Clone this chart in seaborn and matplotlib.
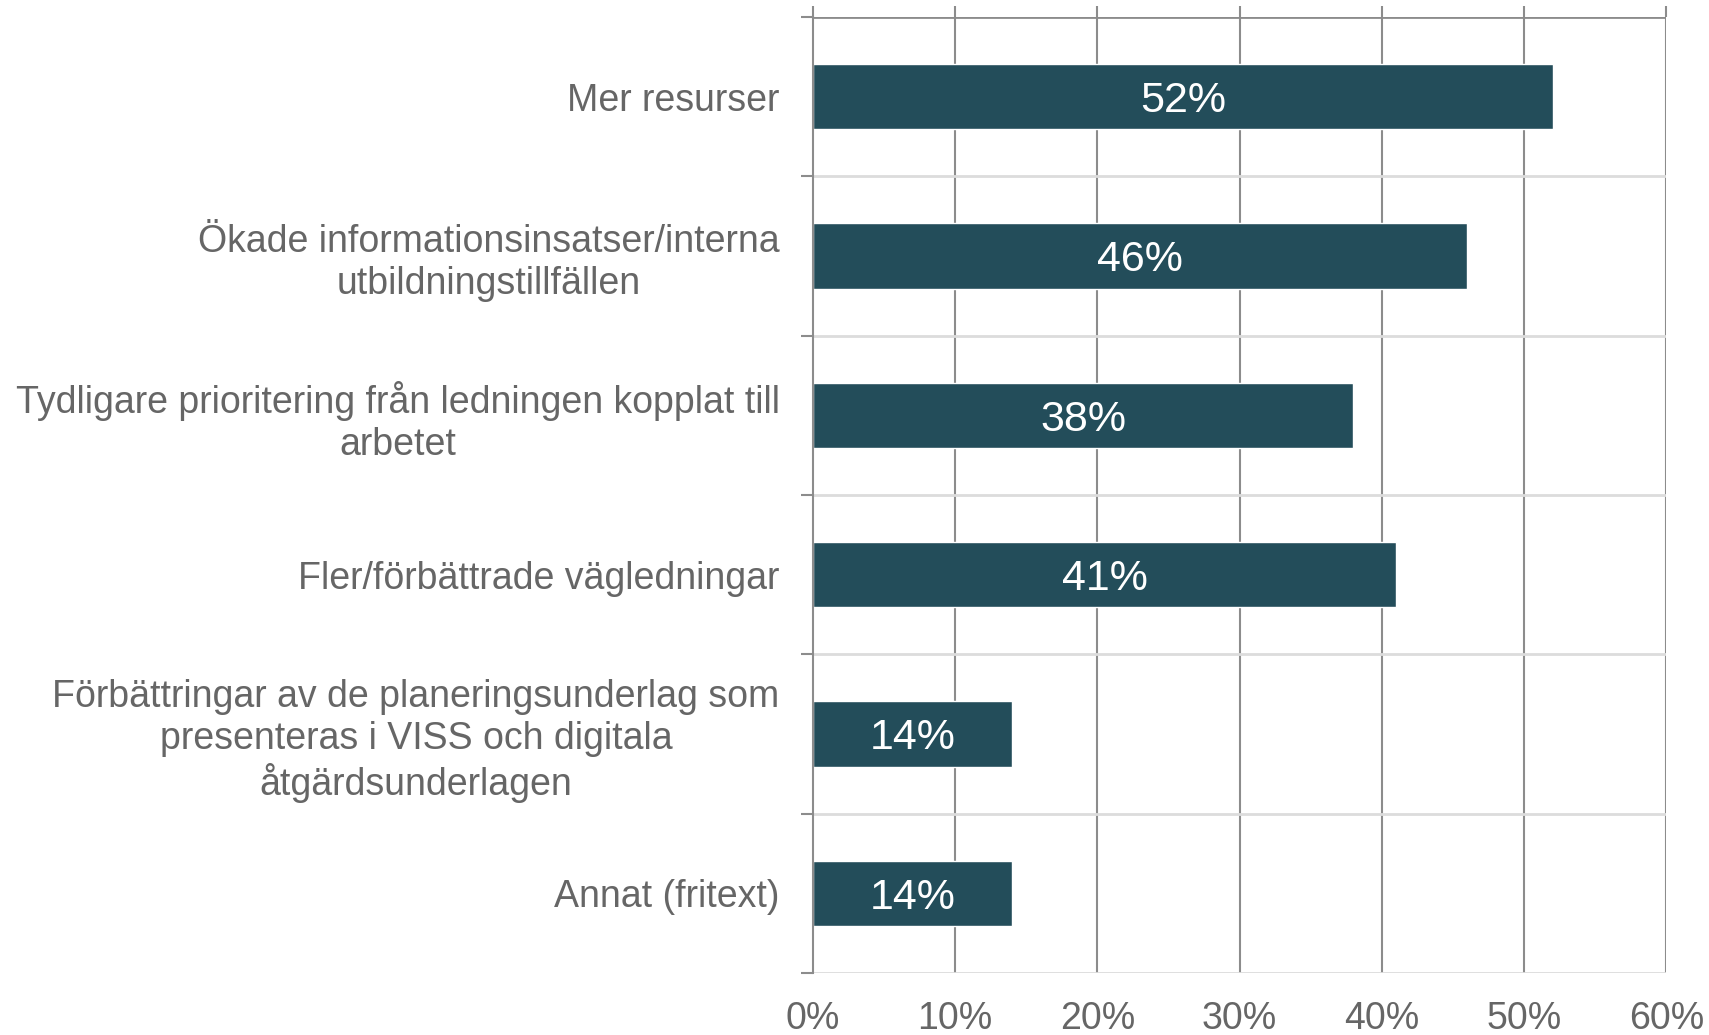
import matplotlib
matplotlib.use("Agg")
import matplotlib.pyplot as plt
import seaborn as sns
import pandas as pd
from matplotlib.ticker import FixedLocator

categories = [
    "Mer resurser",
    "Ökade informationsinsatser/interna\nutbildningstillfällen",
    "Tydligare prioritering från ledningen kopplat till\narbetet",
    "Fler/förbättrade vägledningar",
    "Förbättringar av de planeringsunderlag som\npresenteras i VISS och digitala\nåtgärdsunderlagen",
    "Annat (fritext)",
]
values = [52, 46, 38, 41, 14, 14]
x_ticks = [0, 10, 20, 30, 40, 50, 60]
x_tick_labels = ["0%", "10%", "20%", "30%", "40%", "50%", "60%"]

sns.set_style("white")
plt.rcParams['font.family'] = ['Liberation Sans', 'DejaVu Sans']

df = pd.DataFrame({"cat": categories, "val": values})

fig = plt.figure(figsize=(17.09, 10.35), dpi=100)
ax = fig.add_axes([0.4757, 0.0599, 0.975 - 0.4757, 0.9836 - 0.0599])

sns.barplot(data=df, y="cat", x="val", orient="h", color="#234D5A",
            saturation=1, width=0.41, ax=ax, zorder=3)

ax.set_xlim(0, 60)
ax.set_ylim(5.5, -0.5)
ax.set_xlabel("")
ax.set_ylabel("")

# vertical gridlines
ax.set_xticks(x_ticks)
ax.set_xticklabels(x_tick_labels)
for x in x_ticks[1:]:
    ax.axvline(x, color="#8c8c8c", lw=1.5, zorder=1)
# horizontal separators
for i in range(len(categories)):
    yb = i + 0.5
    ax.axhline(yb, color="#dcdcdc", lw=2, zorder=1)
ax.axhline(-0.5, color="#8c8c8c", lw=2, zorder=2)

for s in ["top", "right", "bottom"]:
    ax.spines[s].set_visible(False)
ax.spines["left"].set_color("#8c8c8c")
ax.spines["left"].set_linewidth(1.5)
ax.spines["left"].set_zorder(4)

# y ticks at category boundaries (major invisible labels at centers)
ax.set_yticks(range(len(categories)))
ax.set_yticklabels(categories, multialignment="center")
ax.yaxis.set_minor_locator(FixedLocator([i - 0.5 for i in range(len(categories) + 1)]))
ax.tick_params(axis="y", which="major", length=0, pad=24, labelsize=27, labelcolor="#666666")
ax.tick_params(axis="y", which="minor", length=9, width=1.5, color="#8c8c8c", left=True)
ax.tick_params(axis="x", bottom=False, top=True, labelbottom=True, labeltop=False,
               length=8, width=1.5, color="#8c8c8c", direction="out",
               pad=12, labelsize=27, labelcolor="#666666")

for i, v in enumerate(values):
    ax.text(v / 2, i, f"{v}%", ha="center", va="center_baseline", color="white",
            fontsize=31, zorder=5)

fig.savefig("out.png", dpi=100)
